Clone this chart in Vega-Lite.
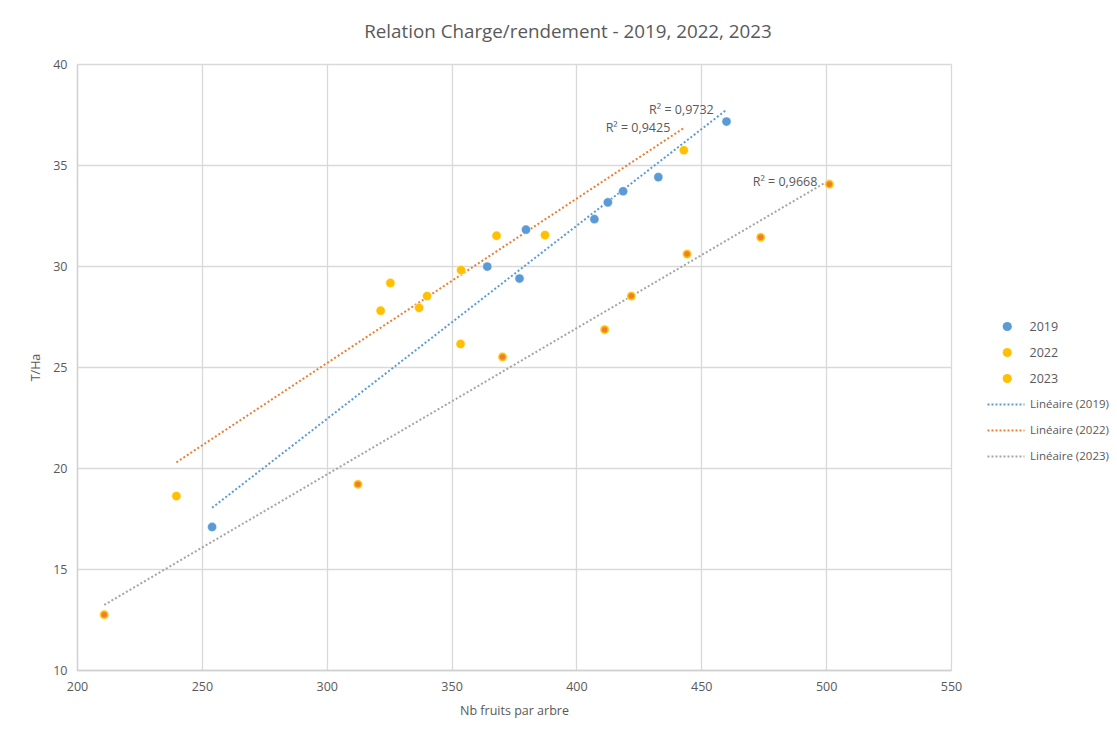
{
  "$schema": "https://vega.github.io/schema/vega-lite/v6.json",
  "autosize": "none",
  "width": 874,
  "height": 606,
  "padding": {"left": 77, "top": 64, "right": 166, "bottom": 63},
  "background": "white",
  "title": {
    "text": "Relation Charge/rendement  - 2019, 2022, 2023",
    "font": "Open Sans",
    "fontSize": 18.8,
    "fontWeight": "normal",
    "color": "#595959",
    "anchor": "middle",
    "frame": "group",
    "dx": 54,
    "offset": 16
  },
  "datasets": {
    "points": [
      {"series": "2019", "fruits": 254.1, "tha": 17.08},
      {"series": "2019", "fruits": 364.3, "tha": 29.97},
      {"series": "2019", "fruits": 377.2, "tha": 29.38},
      {"series": "2019", "fruits": 379.8, "tha": 31.8},
      {"series": "2019", "fruits": 407.2, "tha": 32.32},
      {"series": "2019", "fruits": 412.6, "tha": 33.15},
      {"series": "2019", "fruits": 418.7, "tha": 33.7},
      {"series": "2019", "fruits": 432.8, "tha": 34.4},
      {"series": "2019", "fruits": 460.1, "tha": 37.15},
      {"series": "2022", "fruits": 239.8, "tha": 18.61},
      {"series": "2022", "fruits": 321.6, "tha": 27.79},
      {"series": "2022", "fruits": 325.5, "tha": 29.16},
      {"series": "2022", "fruits": 337.0, "tha": 27.93},
      {"series": "2022", "fruits": 340.2, "tha": 28.51},
      {"series": "2022", "fruits": 353.8, "tha": 29.8},
      {"series": "2022", "fruits": 368.0, "tha": 31.5},
      {"series": "2022", "fruits": 387.4, "tha": 31.53},
      {"series": "2022", "fruits": 443.0, "tha": 35.73},
      {"series": "2023", "fruits": 210.9, "tha": 12.74},
      {"series": "2023", "fruits": 312.5, "tha": 19.19},
      {"series": "2023", "fruits": 353.6, "tha": 26.14},
      {"series": "2023", "fruits": 370.4, "tha": 25.5},
      {"series": "2023", "fruits": 411.3, "tha": 26.85},
      {"series": "2023", "fruits": 422.0, "tha": 28.51},
      {"series": "2023", "fruits": 444.3, "tha": 30.59},
      {"series": "2023", "fruits": 473.8, "tha": 31.42},
      {"series": "2023", "fruits": 501.3, "tha": 34.05}
    ],
    "labels": [
      {"label": "R² = 0,9732", "fruits": 455.0, "tha": 37.72},
      {"label": "R² = 0,9425", "fruits": 437.6, "tha": 36.83},
      {"label": "R² = 0,9668", "fruits": 496.5, "tha": 34.17}
    ]
  },
  "encoding": {
    "x": {
      "field": "fruits",
      "type": "quantitative",
      "scale": {"domain": [200, 550], "nice": false, "zero": false},
      "axis": {"values": [200, 250, 300, 350, 400, 450, 500, 550], "title": "Nb fruits par arbre", "titlePadding": 12}
    },
    "y": {
      "field": "tha",
      "type": "quantitative",
      "scale": {"domain": [10, 40], "nice": false, "zero": false},
      "axis": {"values": [10, 15, 20, 25, 30, 35, 40], "title": "T/Ha", "titlePadding": 10}
    }
  },
  "layer": [
    {
      "data": {"name": "points"},
      "transform": [{"regression": "tha", "on": "fruits", "groupby": ["series"]}],
      "mark": {"type": "line", "strokeWidth": 2, "strokeDash": [2, 2.2]},
      "encoding": {
        "stroke": {
          "field": "series",
          "type": "nominal",
          "scale": {"domain": ["2019", "2022", "2023"], "range": ["#5B9BD5", "#ED7D31", "#A5A5A5"]},
          "legend": {
            "title": null,
            "orient": "none",
            "legendX": 909,
            "legendY": 334,
            "symbolType": "stroke",
            "symbolDash": [2, 2],
            "symbolStrokeWidth": 2,
            "symbolSize": 1370,
            "clipHeight": 13,
            "labelExpr": "'Linéaire (' + datum.label + ')'",
            "labelFontSize": 11.5,
            "rowPadding": 13,
            "labelOffset": 4
          }
        }
      }
    },
    {
      "data": {"name": "points"},
      "mark": {"type": "point", "filled": true, "opacity": 1, "size": 85, "stroke": "white", "strokeWidth": 0.5},
      "encoding": {
        "fill": {
          "field": "series",
          "type": "nominal",
          "scale": {"range": ["#5B9BD5", "#FFC000", "#FFC000"]},
          "legend": {
            "title": null,
            "orient": "none",
            "legendX": 924,
            "legendY": 256,
            "symbolType": "circle",
            "symbolSize": 85,
            "symbolStrokeWidth": 0,
            "clipHeight": 13,
            "rowPadding": 13,
            "labelOffset": 16
          }
        }
      }
    },
    {
      "data": {"name": "points"},
      "transform": [{"filter": "datum.series === '2023' && datum.tha !== 26.14"}],
      "mark": {"type": "point", "filled": true, "opacity": 1, "size": 30, "color": "#ED7D31"}
    },
    {
      "data": {"name": "labels"},
      "mark": {"type": "text", "align": "right", "baseline": "middle", "font": "Open Sans", "fontSize": 12.5, "color": "#595959"},
      "encoding": {"text": {"field": "label"}}
    }
  ],
  "config": {
    "view": {"stroke": null},
    "font": "Open Sans",
    "axis": {
      "grid": true,
      "gridColor": "#D9D9D9",
      "gridWidth": 1.3,
      "domainColor": "#D0D0D0",
      "domainWidth": 1.3,
      "ticks": false,
      "labelFlush": false,
      "labelFont": "Open Sans",
      "labelFontSize": 12.5,
      "labelColor": "#595959",
      "titleFont": "Open Sans",
      "titleFontSize": 12.5,
      "titleFontWeight": "normal",
      "titleColor": "#595959"
    },
    "axisY": {"labelPadding": 10},
    "axisX": {"labelPadding": 10},
    "legend": {
      "labelFont": "Open Sans",
      "labelFontSize": 12.5,
      "labelColor": "#595959"
    }
  }
}
